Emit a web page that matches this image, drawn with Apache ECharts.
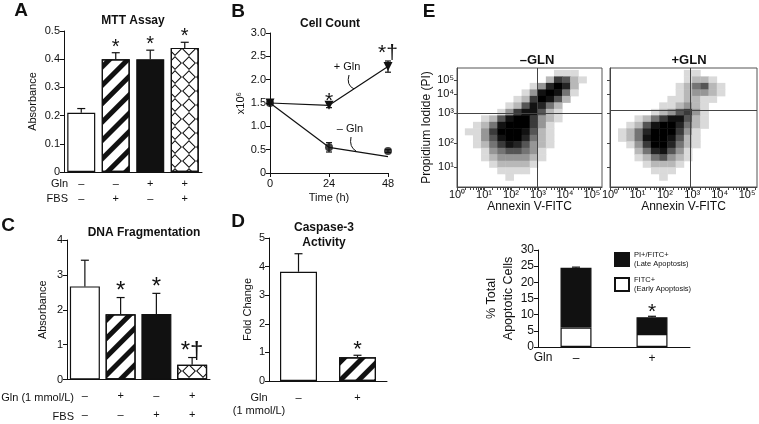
<!DOCTYPE html>
<html><head><meta charset="utf-8">
<script src="https://cdn.jsdelivr.net/npm/echarts@6/dist/echarts.min.js"></script>
<style>html,body{margin:0;padding:0;background:#fff}#c{width:759px;height:424px}</style>
</head><body><div id="c"></div>
<script>
// ---------------- DATA ----------------
// Panel A: MTT assay
const mttGln = ['–', '–', '+', '+'];
const mttFbs = ['–', '+', '–', '+'];
const mttMean = [0.21, 0.40, 0.40, 0.44];
const mttSem = [0.015, 0.023, 0.032, 0.02];
const mttSig = ['', '*', '*', '*'];

// Panel B: cell count (x10^6)
const timeH = [0, 24, 48];
const countPlusGln = [1.5, 1.45, 2.28];
const countPlusErr = [0.03, 0.05, 0.12];
const countMinusGlnLine = [1.5, 0.55, 0.35];
const countMinusGln = [1.5, 0.55, 0.47];
const countMinusErr = [0.03, 0.1, 0.03];
const countSig = ['', '*', '*†'];

// Panel C: DNA fragmentation
const dnaGln = ['–', '+', '–', '+'];
const dnaFbs = ['–', '–', '+', '+'];
const dnaMean = [2.67, 1.87, 1.88, 0.42];
const dnaSem = [0.75, 0.48, 0.59, 0.21];
const dnaSig = ['', '*', '*', '*†'];

// Panel D: caspase-3 activity
const caspGln = ['–', '+'];
const caspMean = [3.82, 0.83];
const caspSem = [0.63, 0.07];
const caspSig = ['', '*'];

// Panel E: flow cytometry density (levels 0-9), rows top -> bottom, 0.3-decade bins
const flowMinusGln = [
  '000000000000111000',
  '000000000002652100',
  '000000000137972000',
  '000000001389841000',
  '000000012698520000',
  '000000125874200000',
  '000001368852100000',
  '000125899632100000',
  '001248999631000000',
  '011369998521000000',
  '001358997421000000',
  '001246875321000000',
  '000134554310000000',
  '000123333210000000',
  '000012222100000000',
  '000001111000000000',
  '000000100000000000',
  '000000000000000000'
];
const flowPlusGln = [
  '000000000110000000',
  '000000000122100000',
  '000000001245210000',
  '000000001233210000',
  '000000011221100000',
  '000000112321000000',
  '000001235631000000',
  '000124688521000000',
  '001258997421000000',
  '012479996310000000',
  '012489985210000000',
  '001369974210000000',
  '000247853100000000',
  '000124532100000000',
  '000012221000000000',
  '000001110000000000',
  '000000100000000000',
  '000000000000000000'
];
const gateMinus = [2.96, 3.42];
const gatePlus = [2.92, 3.56];
const flowXTicks = ['10⁰', '10¹', '10²', '10³', '10⁴', '10⁵'];
const flowXTickPos = [0, 1, 2, 3, 4, 5];
const flowYTicks = ['10¹', '10²', '10³', '10⁴', '10⁵'];
const flowYTickPos = [0.92, 2.03, 3.42, 4.30, 4.94];

// Panel E: % total apoptotic cells
const apoGln = ['–', '+'];
const apoEarly = [6.0, 4.0];
const apoLate = [18.5, 5.2];
const apoSem = [0.2, 0.3];
const apoSig = ['', '*'];

// ---------------- STYLE ----------------
const FONT = '"Liberation Sans", Arial, Helvetica, sans-serif';
const INK = '#111';
const stripeDecal = {symbol: 'rect', symbolSize: 1, dashArrayX: [1, 0], dashArrayY: [5, 8], rotation: -Math.PI / 4, color: INK};
const crossDecal = {symbol: 'path://M7,0L14,7L7,14L0,7Z M7,1.5L1.5,7L7,12.5L12.5,7Z', symbolSize: 1, dashArrayX: [14, 0], dashArrayY: [14, 0], color: INK};
const fWhite = {color: '#fff', borderColor: INK, borderWidth: 1.2};
const fBlack = {color: INK, borderColor: INK, borderWidth: 1.2};
const fStripe = {color: '#fff', borderColor: INK, borderWidth: 1.2, decal: stripeDecal};
const fCross = {color: '#fff', borderColor: INK, borderWidth: 1.2, decal: crossDecal};
const fills4 = [fWhite, fStripe, fBlack, fCross];
const fills2 = [fWhite, fStripe];
const grays = ['#fff', '#dadada', '#b8b8b8', '#969696', '#747474', '#555', '#3a3a3a', '#242424', '#121212', '#000'];

const axLine = {show: true, lineStyle: {color: INK, width: 1}};
const axTick = {show: true, length: 4, lineStyle: {color: INK}};

function valueY(gi, min, max, interval, name, nameGap, fmt, fs) {
  return {type: 'value', gridIndex: gi, min, max, interval,
    axisLine: axLine, axisTick: axTick, splitLine: {show: false},
    axisLabel: {fontSize: fs || 11, color: INK, margin: 4, formatter: fmt},
    name, nameLocation: 'middle', nameGap, nameTextStyle: {fontSize: fs || 11, color: INK}};
}
function catX(gi, labels, margin, lineHeight, fs) {
  return {type: 'category', gridIndex: gi, data: labels,
    axisLine: axLine, axisTick: {show: false},
    axisLabel: {fontSize: fs || 11, color: INK, margin, lineHeight, interval: 0}};
}
function errorBars(xi, yi, lo, hi, sigs, opt) {
  const pts = lo.map((v, i) => [opt.x ? opt.x[i] : i, v, hi[i]]);
  return {type: 'custom', xAxisIndex: xi, yAxisIndex: yi, z: 10, silent: true, data: pts,
    renderItem: (params, api) => {
      const pl = api.coord([api.value(0), api.value(1)]);
      const ph = api.coord([api.value(0), api.value(2)]);
      const cw = opt.cap;
      const st = {stroke: INK, lineWidth: 1.2};
      const ch = [
        {type: 'line', shape: {x1: pl[0], y1: pl[1], x2: ph[0], y2: ph[1]}, style: st},
        {type: 'line', shape: {x1: ph[0] - cw, y1: ph[1], x2: ph[0] + cw, y2: ph[1]}, style: st}
      ];
      if (opt.lowCap) ch.push({type: 'line', shape: {x1: pl[0] - cw, y1: pl[1], x2: pl[0] + cw, y2: pl[1]}, style: st});
      const s = sigs[params.dataIndex];
      if (s) {
        const g = Array.isArray(opt.gap) ? opt.gap[params.dataIndex] : opt.gap;
        ch.push({type: 'text', x: ph[0] + (opt.dx || 0), y: ph[1] - g,
          style: {text: s, fill: INK, font: `normal ${opt.fs}px ${FONT}`, align: 'center', verticalAlign: 'middle'}});
      }
      return {type: 'group', children: ch};
    }};
}
function densityCells(rows) {
  const out = [];
  rows.forEach((row, ri) => {
    for (let c = 0; c < row.length; c++) {
      const d = +row[c];
      if (d > 0) out.push([0.15 + 0.3 * c, 5.25 - 0.3 * ri, d]);
    }
  });
  return out;
}
const logTicks = [];
for (let d = 0; d <= 5; d++) for (let k = 1; k < 10; k++) { const v = d + Math.log10(k); if (v <= 5.35) logTicks.push(v); }

function flowX(gi, max) {
  return {type: 'value', gridIndex: gi, min: 0, max,
    axisLine: {show: true, lineStyle: {color: '#444'}},
    axisTick: {show: true, length: 3, customValues: logTicks, lineStyle: {color: '#444'}},
    splitLine: {show: false},
    axisLabel: {fontSize: 11, color: INK, margin: 2, customValues: flowXTickPos, formatter: v => flowXTicks[Math.round(v)]},
    name: 'Annexin V-FITC', nameLocation: 'middle', nameGap: 9, nameTextStyle: {fontSize: 12, color: INK, verticalAlign: 'top'}};
}
function flowY(gi, showLabels) {
  return {type: 'value', gridIndex: gi, min: 0, max: 5.5,
    axisLine: {show: true, lineStyle: {color: '#444'}},
    axisTick: {show: true, length: 3, customValues: flowYTickPos, lineStyle: {color: '#444'}},
    splitLine: {show: false},
    axisLabel: {show: showLabels, fontSize: 11, color: INK, margin: 3, customValues: flowYTickPos,
      formatter: v => flowYTicks[flowYTickPos.findIndex(p => Math.abs(p - v) < 1e-6)] || ''},
    name: showLabels ? 'Propidium Iodide (PI)' : '', nameLocation: 'middle', nameGap: 24,
    nameTextStyle: {fontSize: 12, color: INK}};
}
function flowSeries(gi, rows, gate) {
  return {type: 'scatter', xAxisIndex: gi, yAxisIndex: gi, symbol: 'rect', symbolSize: [8.6, 7],
    data: densityCells(rows), silent: true,
    itemStyle: {color: p => grays[p.value[2]], opacity: 1},
    markLine: {silent: true, symbol: ['none', 'none'], label: {show: false},
      lineStyle: {color: '#444', type: 'solid', width: 1},
      data: [{xAxis: gate[0]}, {yAxis: gate[1]}]}};
}
const T = (text, x, y, o = {}) => ({type: 'text', x, y, silent: true, z: 100,
  style: {text, fill: INK, font: `${o.w || 'normal'} ${o.s || 11}px ${FONT}`, align: o.a || 'center', verticalAlign: 'middle'}});

// ---------------- OPTION ----------------
const option = {
  animation: false,
  textStyle: {fontFamily: FONT, color: INK},
  grid: [
    {left: 64, top: 31, width: 138, height: 141},
    {left: 270, top: 33, width: 118, height: 140},
    {left: 67, top: 240, width: 143, height: 142},
    {left: 269, top: 238, width: 118, height: 143},
    {left: 457, top: 68, width: 145, height: 119, show: true, borderColor: '#555', borderWidth: 1},
    {left: 610, top: 68, width: 147, height: 119, show: true, borderColor: '#555', borderWidth: 1},
    {left: 538, top: 250, width: 152, height: 97}
  ],
  xAxis: [
    catX(0, mttGln.map((g, i) => g + '\n' + mttFbs[i]), 4.5, 15),
    {type: 'value', gridIndex: 1, min: 0, max: 48, interval: 24, axisLine: axLine, axisTick: axTick, splitLine: {show: false},
      axisLabel: {fontSize: 11, color: INK, margin: 5}, name: 'Time (h)', nameLocation: 'middle', nameGap: 19,
      nameTextStyle: {fontSize: 11, color: INK, verticalAlign: 'top'}},
    catX(2, dnaGln.map((g, i) => g + '\n' + dnaFbs[i]), 6.5, 19),
    catX(3, caspGln, 10.5, 13),
    flowX(4, 5.37),
    flowX(5, 5.36),
    catX(6, apoGln, 4.5, 14, 12)
  ],
  yAxis: [
    valueY(0, 0, 0.5, 0.1, 'Absorbance', 26, v => v === 0 ? '0' : v.toFixed(1)),
    valueY(1, 0, 3, 0.5, 'x10⁶', 22, v => v === 0 ? '0' : v.toFixed(1)),
    valueY(2, 0, 4, 1, 'Absorbance', 19, v => String(v)),
    valueY(3, 0, 5, 1, 'Fold Change', 16, v => String(v)),
    flowY(4, true),
    flowY(5, false),
    Object.assign(valueY(6, 0, 30, 5, '% Total\nApoptotic Cells', 16, v => String(v), 12),
      {nameTextStyle: {fontSize: 12.5, color: INK, lineHeight: 17}})
  ],
  legend: {data: ['PI+/FITC+\n(Late Apoptosis)', 'FITC+\n(Early Apoptosis)'], orient: 'vertical', left: 609, top: 246,
    itemWidth: 14, itemHeight: 13, itemGap: 8, icon: 'rect', selectedMode: false,
    textStyle: {fontSize: 7.5, lineHeight: 8.5, color: INK}},
  series: [
    // A
    {type: 'bar', xAxisIndex: 0, yAxisIndex: 0, barWidth: 28, data: mttMean.map((v, i) => ({value: v, itemStyle: fills4[i]}))},
    errorBars(0, 0, mttMean, mttMean.map((v, i) => v + mttSem[i]), mttSig, {cap: 4, gap: 5.5, fs: 20}),
    // B
    {type: 'line', xAxisIndex: 1, yAxisIndex: 1, data: timeH.map((t, i) => [t, countPlusGln[i]]), symbol: 'triangle',
      symbolRotate: 180, symbolSize: 9, itemStyle: {color: INK}, lineStyle: {color: INK, width: 1.2}},
    {type: 'line', xAxisIndex: 1, yAxisIndex: 1, data: timeH.map((t, i) => [t, countMinusGlnLine[i]]), showSymbol: false,
      lineStyle: {color: INK, width: 1.2}},
    {type: 'scatter', xAxisIndex: 1, yAxisIndex: 1, data: timeH.map((t, i) => [t, countMinusGln[i]]), symbol: 'circle',
      symbolSize: 8, itemStyle: {color: INK}},
    errorBars(1, 1, countPlusGln.map((v, i) => v - countPlusErr[i]), countPlusGln.map((v, i) => v + countPlusErr[i]), countSig,
      {cap: 3, lowCap: true, gap: [0, 1.5, 7.5], fs: 21, x: timeH}),
    errorBars(1, 1, countMinusGln.map((v, i) => v - countMinusErr[i]), countMinusGln.map((v, i) => v + countMinusErr[i]), ['', '', ''],
      {cap: 3, lowCap: true, gap: 0, fs: 20, x: timeH}),
    // C
    {type: 'bar', xAxisIndex: 2, yAxisIndex: 2, barWidth: 30, data: dnaMean.map((v, i) => ({value: v, itemStyle: fills4[i]}))},
    errorBars(2, 2, dnaMean, dnaMean.map((v, i) => v + dnaSem[i]), dnaSig, {cap: 4, gap: 6, fs: 24}),
    // D
    {type: 'bar', xAxisIndex: 3, yAxisIndex: 3, barWidth: 37, data: caspMean.map((v, i) => ({value: v, itemStyle: fills2[i]}))},
    errorBars(3, 3, caspMean, caspMean.map((v, i) => v + caspSem[i]), caspSig, {cap: 4, gap: 5.5, fs: 22}),
    // E flow
    flowSeries(4, flowMinusGln, gateMinus),
    flowSeries(5, flowPlusGln, gatePlus),
    // E bars
    {name: 'FITC+\n(Early Apoptosis)', type: 'bar', stack: 'apo', xAxisIndex: 6, yAxisIndex: 6, barWidth: 31, data: apoEarly, itemStyle: fWhite},
    {name: 'PI+/FITC+\n(Late Apoptosis)', type: 'bar', stack: 'apo', xAxisIndex: 6, yAxisIndex: 6, barWidth: 31, data: apoLate, itemStyle: fBlack},
    errorBars(6, 6, apoEarly.map((v, i) => v + apoLate[i]), apoEarly.map((v, i) => v + apoLate[i] + apoSem[i]), apoSig, {cap: 4, gap: 4, fs: 21})
  ],
  graphic: [
    T('A', 21, 11, {w: 'bold', s: 19}), T('B', 238, 12, {w: 'bold', s: 19}), T('C', 8, 226, {w: 'bold', s: 19}),
    T('D', 238, 222, {w: 'bold', s: 19}), T('E', 429, 12, {w: 'bold', s: 19}),
    T('MTT Assay', 133, 21, {w: 'bold', s: 12}),
    T('Cell Count', 330, 24, {w: 'bold', s: 12}),
    T('DNA Fragmentation', 144, 233, {w: 'bold', s: 12}),
    T('Caspase-3', 324, 228, {w: 'bold', s: 12}), T('Activity', 324, 243, {w: 'bold', s: 12}),
    T('–GLN', 537, 60, {w: 'bold', s: 13}), T('+GLN', 689, 60, {w: 'bold', s: 13}),
    T('Gln', 68, 184, {a: 'right'}), T('FBS', 68, 199, {a: 'right'}),
    T('Gln (1 mmol/L)', 74, 398, {a: 'right'}), T('FBS', 74, 417, {a: 'right'}),
    T('Gln', 259, 398), T('(1 mmol/L)', 259, 411),
    T('Gln', 543, 358, {s: 12}),
    T('+ Gln', 347, 67), T('– Gln', 350, 129),
    {type: 'bezierCurve', silent: true, z: 100, shape: {x1: 349, y1: 75, x2: 354, y2: 89, cpx1: 346, cpy1: 85},
      style: {stroke: INK, lineWidth: 1, fill: null}},
    {type: 'bezierCurve', silent: true, z: 100, shape: {x1: 351, y1: 137, x2: 356, y2: 151, cpx1: 349, cpy1: 147},
      style: {stroke: INK, lineWidth: 1, fill: null}}
  ]
};
const chart = echarts.init(document.getElementById('c'), null, {renderer: 'canvas'});
chart.setOption(option);
</script></body></html>
